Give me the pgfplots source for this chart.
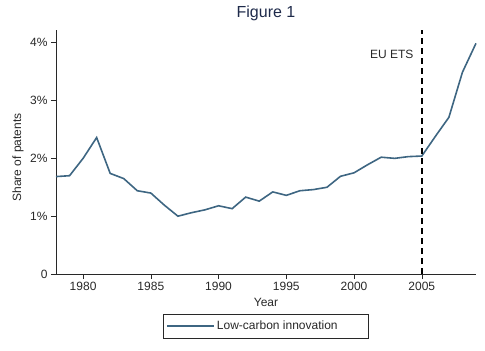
\documentclass[border=0pt]{standalone}
\usepackage{pgfplots}
\pgfplotsset{compat=1.18}
\usepackage{fontspec}
\setmainfont{Liberation Sans}
\definecolor{serblue}{RGB}{62,102,130}
\definecolor{titlenavy}{RGB}{30,42,74}
\definecolor{axgray}{RGB}{40,40,40}
\begin{document}
\begin{tikzpicture}
\path[use as bounding box] (-56pt,-77pt) rectangle (429pt,274pt);
\begin{axis}[
  scale only axis,
  width=420pt, height=244pt,
  at={(0,0)}, anchor=south west,
  xmin=1978, xmax=2009,
  ymin=0, ymax=4.22,
  axis x line=bottom, axis y line=left,
  axis line style={-, axgray, line width=0.6pt},
  tick style={axgray, line width=0.6pt},
  tick align=outside,
  major tick length=5pt,
  xtick={1980,1985,1990,1995,2000,2005},
  ytick={0,1,2,3,4},
  yticklabels={0,1\%,2\%,3\%,4\%},
  /pgf/number format/1000 sep={},
  /pgf/number format/assume math mode=true,
  ticklabel style={font=\fontsize{12}{14}\selectfont, text=axgray},
  xlabel={Year},
  ylabel={Share of patents},
  label style={font=\fontsize{12}{14}\selectfont, text=axgray},
  xlabel style={at={(axis description cs:0.5,-0.1148)}, anchor=center},
  ylabel style={at={(axis description cs:-0.0905,0.477)}, anchor=center},
  title={Figure 1},
  title style={font=\fontsize{16}{18}\selectfont, text=titlenavy, at={(axis description cs:0.5,1)}, anchor=base, yshift=6pt},
  legend style={at={(axis description cs:0.5,-0.213)}, anchor=center, draw=axgray, line width=0.6pt,
    font=\fontsize{12}{14}\selectfont, text=axgray, inner xsep=3pt, inner ysep=5pt},
  legend image code/.code={\draw[#1, line width=1.6pt] (0pt,0pt) -- (47pt,0pt);},
  clip=false,
]
\addplot[serblue, line width=1.6pt] coordinates {
(1978,1.685) (1979,1.70) (1980,2.00) (1981,2.36) (1982,1.74) (1983,1.65)
(1984,1.44) (1985,1.40) (1986,1.19) (1987,1.00) (1988,1.06) (1989,1.11)
(1990,1.18) (1991,1.13) (1992,1.33) (1993,1.26) (1994,1.42) (1995,1.36)
(1996,1.44) (1997,1.46) (1998,1.50) (1999,1.69) (2000,1.75) (2001,1.89)
(2002,2.02) (2003,2.00) (2004,2.03) (2005,2.04) (2006,2.38) (2007,2.71)
(2008,3.49) (2009,3.99)
};
\addlegendentry{Low-carbon innovation\hspace*{26pt}\mbox{}}
\draw[black, line width=1.8pt, dash pattern=on 6pt off 4pt] (axis cs:2005,0) -- (axis cs:2005,4.22);
\node[anchor=east, font=\fontsize{12}{14}\selectfont, text=axgray, inner sep=0pt] at (axis cs:2004.4,3.79) {EU ETS};
\end{axis}
\end{tikzpicture}
\end{document}
